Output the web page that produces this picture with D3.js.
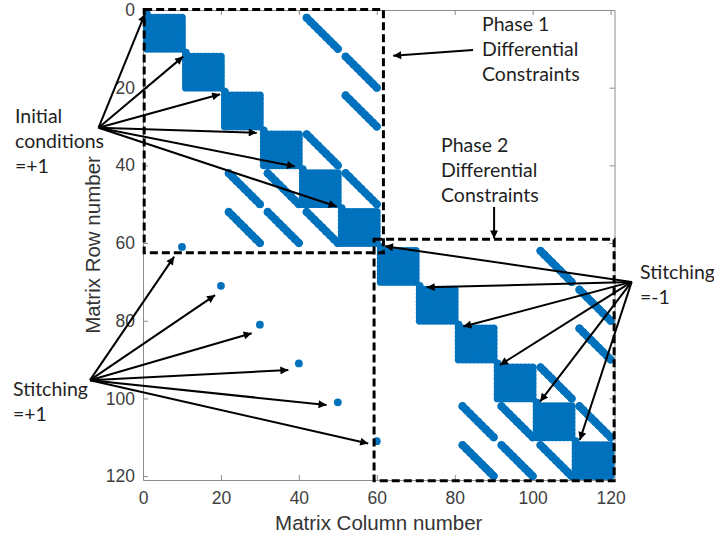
<!DOCTYPE html>
<html>
<head>
<meta charset="utf-8">
<script src="https://cdn.jsdelivr.net/npm/d3@7"></script>
<style>
  html, body { margin: 0; padding: 0; background: #ffffff; }
  svg { display: block; }
</style>
</head>
<body>
<svg id="chart" width="714" height="542"></svg>
<script>
// Sparsity pattern of a two-phase collocation constraint matrix (120 x 120)
const matrixSize = 120;
const xTicks = [0, 20, 40, 60, 80, 100, 120];
const yTicks = [0, 20, 40, 60, 80, 100, 120];

// Dense collocation blocks: [firstRow, lastRow, firstCol, lastCol]
const denseBlocks = [
  [2, 10, 1, 10], [12, 20, 11, 20], [22, 30, 21, 30],
  [32, 40, 31, 40], [42, 50, 41, 50], [52, 60, 51, 60],
  [62, 70, 61, 70], [72, 80, 71, 80], [82, 90, 81, 90],
  [92, 100, 91, 100], [102, 110, 101, 110], [112, 120, 111, 120]
];

// Diagonal coupling bands: [firstRow, firstCol, length]
const couplingBands = [
  [2, 42, 9], [12, 52, 9], [22, 52, 9], [32, 42, 9],
  [42, 22, 9], [42, 32, 9], [42, 52, 9],
  [52, 22, 9], [52, 32, 9], [52, 42, 9],
  [62, 102, 9], [72, 112, 9], [82, 112, 9], [92, 102, 9],
  [102, 82, 9], [102, 92, 9], [102, 112, 9],
  [112, 82, 9], [112, 92, 9], [112, 102, 9]
];

// Single entries: [row, col]
const initialConditionEntries = [[1, 1], [11, 11], [21, 21], [31, 31], [41, 41], [51, 51]];
const stitchPlusEntries = [[61, 10], [71, 20], [81, 30], [91, 40], [101, 50], [111, 60]];
const stitchMinusEntries = [[61, 61], [71, 71], [81, 81], [91, 91], [101, 101], [111, 111]];

// Collect all nonzeros
const nonzeros = [];
denseBlocks.forEach(([r0, r1, c0, c1]) => {
  for (let r = r0; r <= r1; r++) for (let c = c0; c <= c1; c++) nonzeros.push({ row: r, col: c });
});
couplingBands.forEach(([r0, c0, len]) => {
  for (let i = 0; i < len; i++) nonzeros.push({ row: r0 + i, col: c0 + i });
});
[...initialConditionEntries, ...stitchPlusEntries, ...stitchMinusEntries]
  .forEach(([r, c]) => nonzeros.push({ row: r, col: c }));

const svg = d3.select('#chart');
const plot = { left: 143, top: 10, right: 614.5, bottom: 480 };

const x = d3.scaleLinear().domain([0, matrixSize + 1]).range([plot.left, plot.right]);
const y = d3.scaleLinear().domain([0, matrixSize + 1]).range([plot.top, plot.bottom]);

const markerColor = '#0072BD';
const markerRadius = 3.9;
const axisColor = '#8c8c8c';
const tickTextColor = '#404040';
const tickFont = '"Liberation Sans", Arial, Helvetica, sans-serif';
const noteFont = 'Lato, "Open Sans", sans-serif';

function styleAxis(sel) {
  sel.attr('font-family', tickFont).attr('font-size', 17.5);
  sel.select('.domain').attr('stroke', axisColor).attr('stroke-width', 1);
  sel.selectAll('.tick line').attr('stroke', axisColor).attr('stroke-width', 1);
  sel.selectAll('.tick text').attr('fill', tickTextColor);
}

// Axes (box with inward ticks)
svg.append('g').attr('transform', `translate(0,${plot.bottom})`)
  .call(d3.axisBottom(x).tickValues(xTicks).tickSizeInner(-5).tickSizeOuter(0).tickPadding(12))
  .call(styleAxis);
svg.append('g').attr('transform', `translate(0,${plot.top})`)
  .call(d3.axisTop(x).tickValues(xTicks).tickSizeInner(-5).tickSizeOuter(0).tickFormat(() => ''))
  .call(styleAxis);
svg.append('g').attr('transform', `translate(${plot.left},0)`)
  .call(d3.axisLeft(y).tickValues(yTicks).tickSizeInner(-5).tickSizeOuter(0).tickPadding(8))
  .call(styleAxis);
svg.append('g').attr('transform', `translate(${plot.right},0)`)
  .call(d3.axisRight(y).tickValues(yTicks).tickSizeInner(-5).tickSizeOuter(0).tickFormat(() => ''))
  .call(styleAxis);

// Axis titles
svg.append('text')
  .attr('x', (plot.left + plot.right) / 2).attr('y', 530)
  .attr('text-anchor', 'middle')
  .attr('font-family', tickFont).attr('font-size', 20.5).attr('fill', '#333')
  .text('Matrix Column number');
svg.append('text')
  .attr('transform', `translate(100,${(plot.top + plot.bottom) / 2}) rotate(-90)`)
  .attr('text-anchor', 'middle')
  .attr('font-family', tickFont).attr('font-size', 20.5).attr('fill', '#333')
  .text('Matrix Row number');

// Nonzero markers
const markG = svg.append('g');
markG.selectAll('circle')
  .data(nonzeros)
  .join('circle')
  .attr('cx', d => x(d.col))
  .attr('cy', d => y(d.row))
  .attr('r', markerRadius)
  .attr('fill', markerColor);

// Consecutive band entries overlap into a continuous stroke
markG.selectAll('line.band')
  .data(couplingBands)
  .join('line')
  .attr('class', 'band')
  .attr('x1', d => x(d[1])).attr('y1', d => y(d[0]))
  .attr('x2', d => x(d[1] + d[2] - 1)).attr('y2', d => y(d[0] + d[2] - 1))
  .attr('stroke', markerColor).attr('stroke-width', markerRadius * 2)
  .attr('stroke-linecap', 'round');

// Phase regions (dashed boxes), in matrix coordinates: [col0, row0, col1, row1]
const phaseBoxes = [
  [0.3, -0.1, 61.7, 62.5],
  [59.3, 59.0, 120.9, 121.2]
];
svg.append('g').selectAll('rect')
  .data(phaseBoxes)
  .join('rect')
  .attr('x', d => x(d[0])).attr('y', d => y(d[1]))
  .attr('width', d => x(d[2]) - x(d[0])).attr('height', d => y(d[3]) - y(d[1]))
  .attr('fill', 'none').attr('stroke', '#000').attr('stroke-width', 3)
  .attr('stroke-dasharray', '8,4');

// Arrowhead
svg.append('defs').append('marker')
  .attr('id', 'head')
  .attr('viewBox', '0 0 10 10')
  .attr('refX', 10).attr('refY', 5)
  .attr('markerUnits', 'userSpaceOnUse')
  .attr('markerWidth', 10).attr('markerHeight', 8)
  .attr('orient', 'auto')
  .append('path').attr('d', 'M0,0 L10,5 L0,10 Z').attr('fill', '#000');

// Annotation arrows: origin and targets in matrix coordinates [col, row]
const annotationArrows = [
  { from: [-11.4, 30.3], to: [[0.5, 1.0], [10.3, 12.0], [19.8, 21.7], [29.2, 31.6], [39.0, 40.3], [49.7, 50.6]] },
  { from: [-13.6, 95.3], to: [[8.0, 63.5], [18.5, 73.4], [27.9, 83.2], [37.3, 92.7], [47.1, 101.7], [57.8, 111.6]] },
  { from: [125.4, 70.0], to: [[62.1, 60.8], [72.8, 71.4], [82.2, 81.5], [91.6, 91.4], [101.9, 100.8], [112.1, 110.7]] },
  { from: [84.7, 10.3], to: [[64.2, 11.8]] },
  { from: [90.1, 50.7], to: [[90.1, 58.8]] }
];
const arrowG = svg.append('g');
annotationArrows.forEach(a => {
  a.to.forEach(t => {
    arrowG.append('line')
      .attr('x1', x(a.from[0])).attr('y1', y(a.from[1]))
      .attr('x2', x(t[0])).attr('y2', y(t[1]))
      .attr('stroke', '#000').attr('stroke-width', 2)
      .attr('marker-end', 'url(#head)');
  });
});

// Annotation texts: [x, firstBaseline, lines]
const notes = [
  [482, 31, ['Phase 1', 'Differential', 'Constraints']],
  [441, 152, ['Phase 2', 'Differential', 'Constraints']],
  [15, 123, ['Initial', 'conditions', '=+1']],
  [13, 396, ['Stitching', '=+1']],
  [640, 279, ['Stitching', '=-1']]
];
notes.forEach(([nx, ny, lines]) => {
  const t = svg.append('text')
    .attr('font-family', noteFont).attr('font-size', 19.5).attr('fill', '#1f1f1f');
  lines.forEach((ln, i) => {
    t.append('tspan').attr('x', nx).attr('y', ny + i * 25).text(ln);
  });
});
</script>
</body>
</html>
